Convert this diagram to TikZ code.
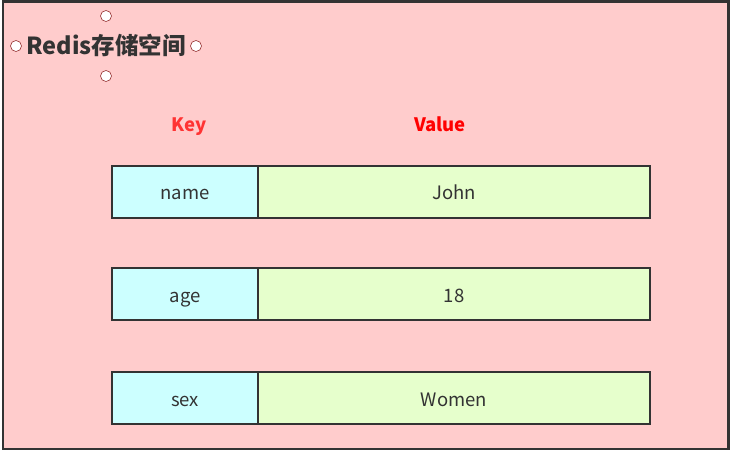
\documentclass[tikz,border=0pt]{standalone}
\usepackage{fontspec}
\setmainfont{Noto Sans CJK SC}
\begin{document}
\begin{tikzpicture}[x=1pt,y=-1pt,
  keybox/.style={draw=black!80, line width=2.4pt, fill={rgb,255:red,204;green,255;blue,255}},
  valbox/.style={draw=black!80, line width=2.4pt, fill={rgb,255:red,230;green,255;blue,204}},
  handle/.style={circle, draw={rgb,255:red,150;green,50;blue,50}, line width=0.6pt, fill=white, minimum size=11pt, inner sep=0pt},
  lbl/.style={anchor=base, inner sep=0pt, font=\fontsize{18.5}{18.5}\selectfont, text=black!80},
  head/.style={anchor=base, inner sep=0pt, font=\fontsize{18.5}{18.5}\selectfont\bfseries}
]
\useasboundingbox (0,0) rectangle (733,454);
\fill[white] (0,0) rectangle (733,454);
\draw[black!80, line width=2.4pt, fill={rgb,255:red,255;green,204;blue,204}] (3,1.5) rectangle (728.5,449);
\node[anchor=base, inner sep=0pt, font=\fontsize{23.5}{23.5}\selectfont\bfseries, text=black!80] (title) at (106,55) {Redis存储空间};
\node[handle] (h1) at (106,16) {};
\node[handle] (h2) at (16,46) {};
\node[handle] (h3) at (196,46) {};
\node[handle] (h4) at (106,76) {};
\node[head, text={rgb,255:red,255;green,51;blue,51}] (key) at (189,132) {Key};
\node[head, text={rgb,255:red,255;green,0;blue,0}] (value) at (440,132) {Value};
\foreach \y/\k/\v/\n in {166/name/John/1, 268/age/18/2, 372/sex/Women/3} {
  \draw[valbox] (258,\y) rectangle (650,\y+52);
  \draw[keybox] (112,\y) rectangle (258,\y+52);
  \node[lbl] (k\n) at (185,\y+34) {\k};
  \node[lbl] (v\n) at (454,\y+34) {\v};
}
\end{tikzpicture}
\end{document}
